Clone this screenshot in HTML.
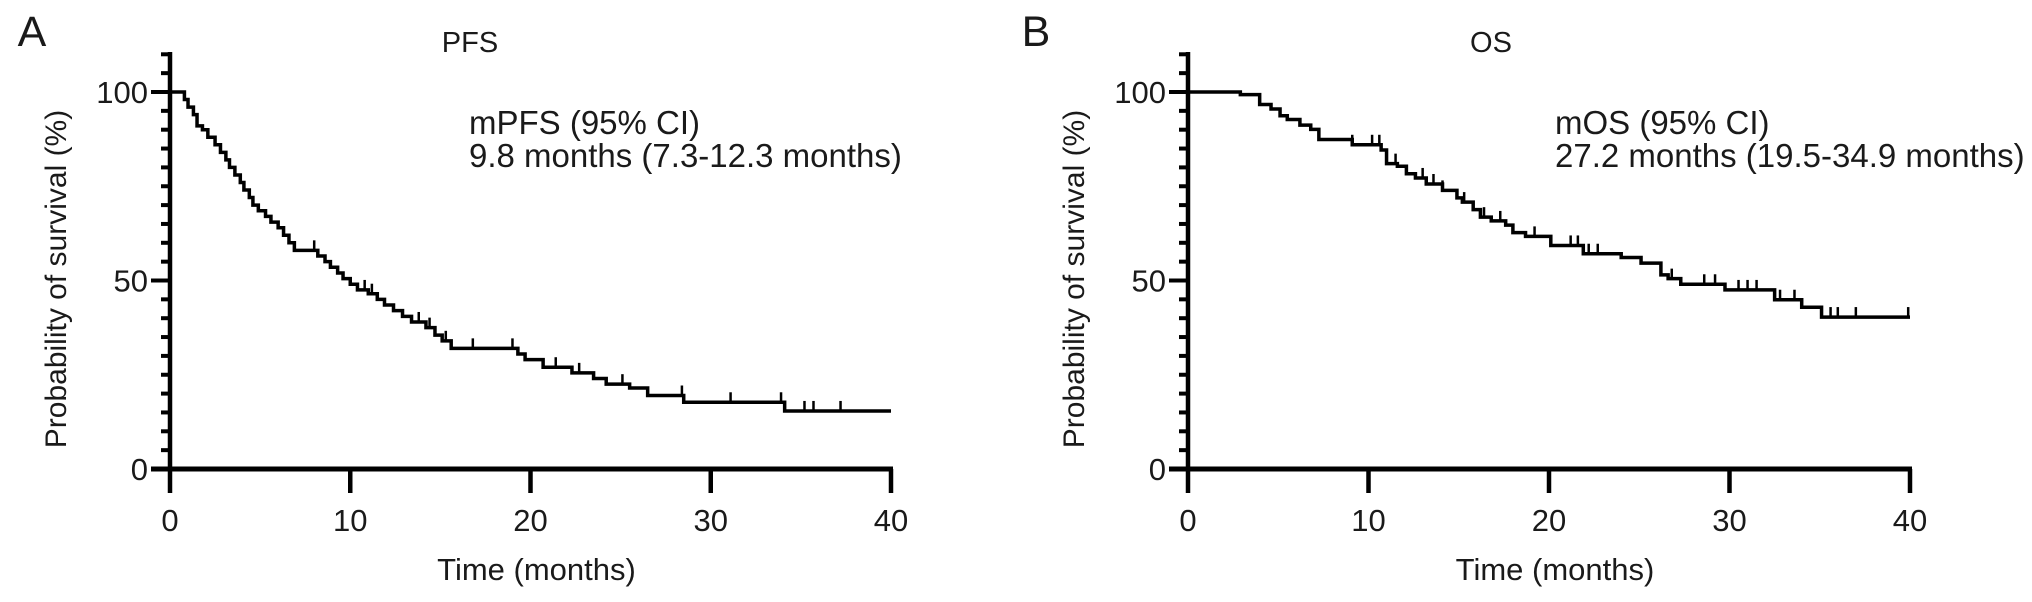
<!DOCTYPE html>
<html><head><meta charset="utf-8"><style>
body{margin:0;background:#fff;}
svg{display:block;font-family:"Liberation Sans",Arial,sans-serif;}
</style></head><body>
<svg id="chart" width="2032" height="602" viewBox="0 0 2032 602" xmlns="http://www.w3.org/2000/svg"></svg>
<script>
const xTicks=[0,10,20,30,40];
const yTicks=[0,50,100];
// PFS: step times and survival after each drop
const pfsTimes=[0.8,1.0,1.3,1.5,1.8,2.1,2.5,2.8,3.1,3.3,3.6,3.9,4.1,4.4,4.6,4.9,5.3,5.6,6.0,6.3,6.6,6.9,8.2,8.6,8.9,9.3,9.6,10.0,10.4,11.0,11.5,11.9,12.4,12.9,13.4,14.2,14.7,15.1,15.6,19.3,19.7,20.7,22.3,23.5,24.2,25.5,26.5,28.5,34.1];
const pfsSurv=[98,96,94,91,90,88,86,84,82,80,78,76,74,72,70,68.5,67,65.5,64,62,60,58,56.5,55,53.5,52,50.5,49,47.5,46.5,45,43.5,42,40.5,39,37.5,35.5,34,32,30.5,29,27,25.5,24,22.5,21.5,19.5,17.7,15.4];
const pfsCensor=[8.0,10.8,11.2,13.8,14.4,15.3,16.8,19.0,21.4,22.7,25.1,28.4,31.1,33.9,35.2,35.7,37.2];
// OS
const osTimes=[2.9,3.97,4.6,5.1,5.5,6.2,6.8,7.25,9.1,10.7,11.0,11.6,12.1,12.6,13.2,14.1,14.9,15.2,15.8,16.2,16.8,17.6,18.0,18.7,20.1,21.9,24.0,25.1,26.2,26.6,27.3,29.75,32.5,34.0,35.1];
const osSurv=[99.3,96.7,95.5,93.7,92.7,91.2,90.1,87.4,86,84.6,81,80.3,78.3,77.2,75.6,73.9,71.9,70.8,68.8,66.8,65.8,64.7,62.7,61.7,59.3,57.1,56.1,54.6,51.5,50.5,49,47.5,44.9,42.9,40.3];
const osCensor=[9.1,10.2,10.6,11.5,13.0,13.6,14.1,15.3,16.4,17.3,19.2,21.2,21.6,22.2,22.7,26.8,28.6,29.2,30.5,31.0,31.5,32.8,33.6,35.6,36.0,37.0,39.9];

const svg=document.getElementById('chart');
const NS='http://www.w3.org/2000/svg';
function mk(tag,attrs,parent){const e=document.createElementNS(NS,tag);for(const k in attrs)e.setAttribute(k,attrs[k]);(parent||svg).appendChild(e);return e;}
function txt(s,x,y,size,anchor,parent){const t=mk('text',{x:x,y:y,'font-size':size,'text-anchor':anchor||'middle',fill:'#1a1a1a'},parent);t.textContent=s;return t;}

function panel(cfg){
  const g=mk('g',{});
  
  
  const x0=cfg.x0,x1=cfg.x1,yTop=92,yBot=469;
  const X=t=>x0+(x1-x0)*t/40;
  const Y=v=>yBot-(yBot-yTop)*v/100;
  const ya=mk('line',{x1:x0,y1:52,x2:x0,y2:yBot+2,stroke:'#000','stroke-width':4.5},g);
  
  
  for(let v=0;v<=110;v+=5){
    const major=v%50===0;
    const tk=mk('line',{x1:x0-(major?19:9),y1:Y(v),x2:x0,y2:Y(v),stroke:'#000','stroke-width':4},g);
    
    
  }
  yTicks.forEach(v=>{
    const l=txt(String(v),x0-22,Y(v)+11,31,'end',g);
    
    
  });
  const xa=mk('line',{x1:x0-19,y1:yBot,x2:x1+2,y2:yBot,stroke:'#000','stroke-width':5},g);
  
  
  xTicks.forEach(t=>{
    const tk=mk('line',{x1:X(t),y1:yBot,x2:X(t),y2:yBot+24,stroke:'#000','stroke-width':4.5},g);
    
    
    const l=txt(String(t),X(t),531,31,'middle',g);
    
    
  });
  const xt=txt('Time (months)',(x0+x1)/2+6,580,31,'middle',g);
  
  
  const yt=txt('Probability of survival (%)',0,0,30,'middle',g);
  yt.setAttribute('transform','translate('+(x0-104)+',279) rotate(-90)');
  
  
  const lt=txt(cfg.letter,cfg.letterX,46,43,'middle',g);
  
  
  const ti=txt(cfg.title,cfg.titleX,52,29,'middle',g);
  
  
  const s1=txt(cfg.stat1,cfg.statX,134,33,'start',g);
  
  
  const s2=txt(cfg.stat2,cfg.statX,167,33,'start',g);
  
  
  let d='M'+X(0)+','+Y(100);
  cfg.times.forEach((t,i)=>{d+=' H'+X(t)+' V'+Y(cfg.surv[i]);});
  d+=' H'+X(40);
  const p=mk('path',{d:d,fill:'none',stroke:'#000','stroke-width':3.5},g);
  
  
  cfg.censor.forEach(t=>{
    let v=100;cfg.times.forEach((tt,i)=>{if(tt<=t)v=cfg.surv[i];});
    const c=mk('line',{x1:X(t),y1:Y(v)-10,x2:X(t),y2:Y(v),stroke:'#000','stroke-width':2.5},g);
    
    
  });
}
panel({name:'pfs-panel',x0:170,x1:891,letter:'A',letterX:32,title:'PFS',titleX:470,stat1:'mPFS (95% CI)',stat2:'9.8 months (7.3-12.3 months)',statX:469,times:pfsTimes,surv:pfsSurv,censor:pfsCensor});
panel({name:'os-panel',x0:1188,x1:1910,letter:'B',letterX:1036,title:'OS',titleX:1491,stat1:'mOS (95% CI)',stat2:'27.2 months (19.5-34.9 months)',statX:1555,times:osTimes,surv:osSurv,censor:osCensor});
</script>
</body></html>
